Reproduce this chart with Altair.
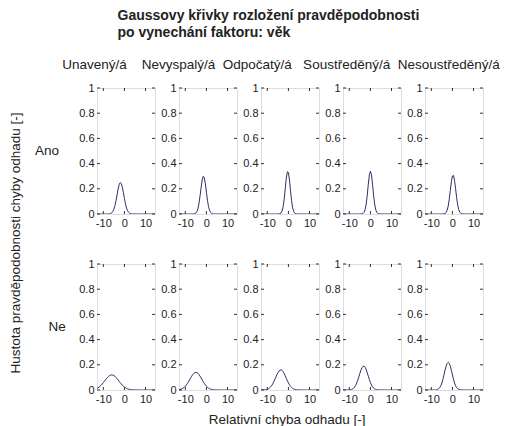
import altair as alt
import numpy as np
import pandas as pd

# --- data ---
conditions = ["Unavený/á", "Nevyspalý/á", "Odpočatý/á", "Soustředěný/á", "Nesoustředěný/á"]
answers = ["Ano", "Ne"]
# peak position (mean) and peak height of each Gaussian curve
means_ano = [-1.9, -1.4, -0.3, 0.0, 0.3]
peaks_ano = [0.25, 0.30, 0.34, 0.34, 0.31]
means_ne = [-6.0, -5.0, -3.6, -3.2, -2.0]
peaks_ne = [0.12, 0.14, 0.16, 0.19, 0.22]
x_ticks = [-10, 0, 10]
y_ticks = [0, 0.2, 0.4, 0.6, 0.8, 1]
x_grid = np.arange(-13.0, 14.51, 0.5)

X_DOMAIN = [-13, 14.5]
W, H = 58, 126
LINE = "#2e2e6a"
FONT = "Liberation Sans"
TXT = "#222"
NB = "\u00a0"

rows = []
for ans, means, peaks in [("Ano", means_ano, peaks_ano), ("Ne", means_ne, peaks_ne)]:
    for cond, mu, pk in zip(conditions, means, peaks):
        sigma = 1.0 / (pk * np.sqrt(2 * np.pi))
        for xv in x_grid:
            yv = np.exp(-0.5 * ((xv - mu) / sigma) ** 2) / (sigma * np.sqrt(2 * np.pi))
            rows.append(dict(ans=ans, cond=cond, kind="curve", x=float(xv), y=float(yv)))
        for xt in x_ticks:
            rows.append(dict(ans=ans, cond=cond, kind="xtick", x=xt, y=0.0))
        for yt in y_ticks:
            rows.append(dict(ans=ans, cond=cond, kind="ytick", x=0.0, y=yt))
df = pd.DataFrame(rows)

header_line = (NB * 4 + conditions[0] + NB * 4 + conditions[1] + NB * 2 + conditions[2] + NB * 3
               + conditions[3] + NB * 2 + conditions[4])

x_axis = alt.Axis(values=x_ticks, title=None, ticks=False, domain=False, grid=False,
                  labelExpr="'' + datum.value",
                  labelFontSize=11, labelPadding=3, labelColor=TXT, labelFont=FONT)
y_axis = alt.Axis(values=y_ticks, title=None, ticks=False, domain=False, grid=False,
                  labelExpr="'' + datum.value",
                  labelFontSize=11, labelPadding=3, labelColor=TXT, labelFont=FONT)
xs = alt.Scale(domain=X_DOMAIN, nice=False, zero=False)
ys = alt.Scale(domain=[0, 1], nice=False)

curve = alt.Chart().transform_filter("datum.kind == 'curve'").mark_line(
    color=LINE, strokeWidth=1, clip=True
).encode(
    x=alt.X("x:Q", scale=xs, axis=x_axis),
    y=alt.Y("y:Q", scale=ys, axis=y_axis),
)

xt = alt.Chart().transform_filter("datum.kind == 'xtick'")
xt_bottom = xt.mark_rule(color="#333", strokeWidth=1).encode(
    x=alt.X("x:Q", scale=xs, axis=x_axis), y=alt.value(H), y2=alt.value(H - 3))
xt_top = xt.mark_rule(color="#333", strokeWidth=1).encode(
    x=alt.X("x:Q", scale=xs, axis=x_axis), y=alt.value(0), y2=alt.value(3))

yt = alt.Chart().transform_filter("datum.kind == 'ytick'")
yt_left = yt.mark_rule(color="#333", strokeWidth=1).encode(
    y=alt.Y("y:Q", scale=ys, axis=y_axis), x=alt.value(0), x2=alt.value(3))
yt_right = yt.mark_rule(color="#333", strokeWidth=1).encode(
    y=alt.Y("y:Q", scale=ys, axis=y_axis), x=alt.value(W), x2=alt.value(W - 3))

cell = alt.layer(curve, xt_bottom, xt_top, yt_left, yt_right, data=df).properties(width=W, height=H)

facet = cell.facet(
    row=alt.Row("ans:N", sort=answers, title="Hustota pravděpodobnosti chyby odhadu [-]",
                header=alt.Header(labelOrient="left", titleOrient="left", labelAngle=0,
                                  labelFontSize=13.5, titleFontSize=13.5, titleFontWeight="normal",
                                  labelFont=FONT, titleFont=FONT, labelColor=TXT, titleColor=TXT,
                                  labelPadding=14, titlePadding=2)),
    column=alt.Column("cond:N", sort=conditions, title=header_line,
                      header=alt.Header(labels=False, titleOrient="top",
                                        titleFontSize=13.5, titleFontWeight="normal",
                                        titleFont=FONT, titleColor=TXT, titlePadding=7)),
    spacing={"row": 50, "column": 24},
    bounds="flush",
).resolve_axis(x="independent", y="independent").properties(
    title=alt.TitleParams(["Gaussovy křivky rozložení pravděpodobnosti", "po vynechání faktoru: věk"],
                          anchor="start", fontSize=14, fontWeight="bold", font=FONT, color=TXT,
                          lineHeight=17, dx=109, offset=18),
)

chart = alt.vconcat(facet).properties(
    title=alt.TitleParams("Relativní chyba odhadu [-]", orient="bottom", anchor="middle",
                          fontSize=13.5, fontWeight="normal", font=FONT, color=TXT, dx=33, offset=8),
    padding=0,
).configure_view(stroke="#333", strokeWidth=1).configure(background="white")

chart.save("out.html", embed_options={"renderer": "svg", "actions": False})
